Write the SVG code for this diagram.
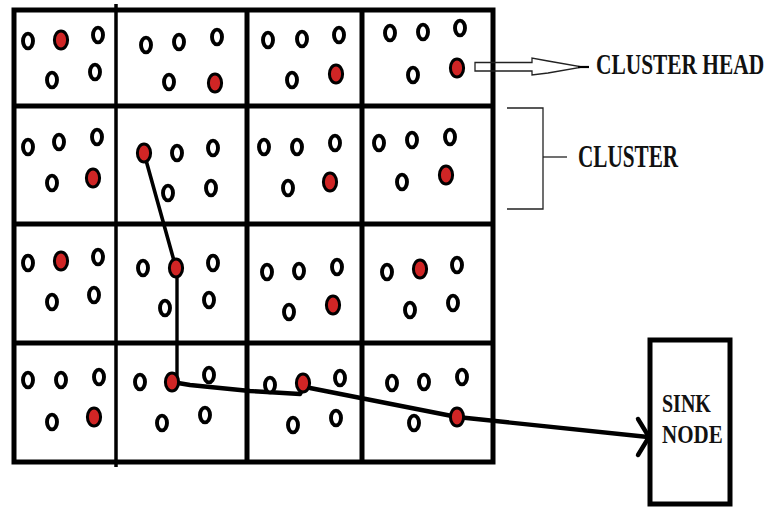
<svg xmlns="http://www.w3.org/2000/svg" width="770" height="507" viewBox="0 0 770 507">
<style>
.n{fill:#fff;stroke:#000;stroke-width:3.9}
.h{fill:#d02525;stroke:#000;stroke-width:3}
.g{fill:none;stroke:#000;stroke-width:5}
.thin{fill:none;stroke:#222;stroke-width:1.3}
.lbl{font-family:"Liberation Serif","Times New Roman",serif;font-weight:bold;fill:#111}
.c{fill:none;stroke:#000;stroke-width:4.4;stroke-linejoin:round;stroke-linecap:round}
</style>
<defs>
<ellipse id="o" class="n" rx="5" ry="7.4"/>
<ellipse id="r" class="h" rx="6.6" ry="9"/>
</defs>
<rect width="770" height="507" fill="#fff"/>
<g id="grid">
<rect class="g" x="14" y="10" width="479" height="452"/>
<line class="g" x1="14" y1="106" x2="493" y2="106"/>
<line class="g" x1="14" y1="224" x2="493" y2="224"/>
<line class="g" x1="14" y1="343" x2="493" y2="343"/>
<line class="g" x1="247" y1="10" x2="247" y2="462" stroke-width="4"/>
<line class="g" x1="362" y1="10" x2="362" y2="462" stroke-width="4"/>
<line class="g" x1="116" y1="4" x2="116" y2="467" style="stroke-width:3.5"/>
</g>
<g id="connectors">
<polyline class="c" points="144,153 176,268" style="stroke-width:3.6"/>
<polyline class="c" points="177,268 177,382" style="stroke-width:3.4"/>
<polyline class="c" points="172,382 190,385 250,391 300,394 304,386 310,388 457,417 648,437"/>
<polyline class="c" points="638,419 649,437 638,455"/>
<polygon class="thin" points="475,62.5 532,62.5 532,58 548,61 580,66.5 580,67.5 548,73 532,75 532,71 475,71"/>
<line x1="578" y1="67" x2="589" y2="67" stroke="#000" stroke-width="2.2"/>
<polyline class="thin" points="507,108 543,108 543,209 507,209"/>
<line class="thin" x1="543" y1="157" x2="567" y2="157"/>
</g>
<g id="cell-1-1"><use href="#o" x="28" y="41"/><use href="#r" x="61" y="40"/><use href="#o" x="98" y="35"/><use href="#o" x="52" y="80"/><use href="#o" x="95" y="72"/></g>
<g id="cell-1-2"><use href="#o" x="146" y="45"/><use href="#o" x="179" y="42"/><use href="#o" x="217" y="37"/><use href="#o" x="169" y="82"/><use href="#r" x="215" y="83"/></g>
<g id="cell-1-3"><use href="#o" x="268" y="40"/><use href="#o" x="302" y="39"/><use href="#o" x="339" y="35"/><use href="#o" x="292" y="80"/><use href="#r" x="336" y="74"/></g>
<g id="cell-1-4"><use href="#o" x="390" y="33"/><use href="#o" x="423" y="32"/><use href="#o" x="460" y="28"/><use href="#o" x="413" y="75"/><use href="#r" x="457" y="68"/></g>
<g id="cell-2-1"><use href="#o" x="28" y="147"/><use href="#o" x="59" y="142"/><use href="#o" x="97" y="137"/><use href="#o" x="52" y="183"/><use href="#r" x="93" y="178"/></g>
<g id="cell-2-2"><use href="#r" x="144" y="153"/><use href="#o" x="177" y="153"/><use href="#o" x="213" y="148"/><use href="#o" x="168" y="193"/><use href="#o" x="211" y="188"/></g>
<g id="cell-2-3"><use href="#o" x="264" y="147"/><use href="#o" x="297" y="147"/><use href="#o" x="335" y="143"/><use href="#o" x="288" y="188"/><use href="#r" x="330" y="182"/></g>
<g id="cell-2-4"><use href="#o" x="379" y="143"/><use href="#o" x="412" y="140"/><use href="#o" x="450" y="137"/><use href="#o" x="402" y="182"/><use href="#r" x="446" y="175"/></g>
<g id="cell-3-1"><use href="#o" x="28" y="263"/><use href="#r" x="61" y="261"/><use href="#o" x="98" y="257"/><use href="#o" x="52" y="302"/><use href="#o" x="94" y="295"/></g>
<g id="cell-3-2"><use href="#o" x="143" y="268"/><use href="#r" x="176" y="268"/><use href="#o" x="213" y="263"/><use href="#o" x="165" y="308"/><use href="#o" x="209" y="300"/></g>
<g id="cell-3-3"><use href="#o" x="267" y="272"/><use href="#o" x="299" y="271"/><use href="#o" x="337" y="267"/><use href="#o" x="289" y="312"/><use href="#r" x="333" y="305"/></g>
<g id="cell-3-4"><use href="#o" x="387" y="272"/><use href="#r" x="420" y="269"/><use href="#o" x="457" y="265"/><use href="#o" x="410" y="310"/><use href="#o" x="453" y="303"/></g>
<g id="cell-4-1"><use href="#o" x="28" y="380"/><use href="#o" x="61" y="380"/><use href="#o" x="99" y="377"/><use href="#o" x="52" y="422"/><use href="#r" x="94" y="417"/></g>
<g id="cell-4-2"><use href="#o" x="140" y="382"/><use href="#r" x="172" y="382"/><use href="#o" x="209" y="375"/><use href="#o" x="162" y="423"/><use href="#o" x="205" y="415"/></g>
<g id="cell-4-3"><use href="#o" x="270" y="385"/><use href="#r" x="303" y="383"/><use href="#o" x="340" y="378"/><use href="#o" x="293" y="425"/><use href="#o" x="336" y="418"/></g>
<g id="cell-4-4"><use href="#o" x="392" y="383"/><use href="#o" x="424" y="382"/><use href="#o" x="462" y="377"/><use href="#o" x="414" y="423"/><use href="#r" x="457" y="417"/></g>
<g id="sink">
<rect x="650" y="340" width="80" height="164" fill="#fff" stroke="#000" stroke-width="5"/>
<text class="lbl" transform="translate(662,412) scale(1,1.3)" font-size="20">SINK</text>
<text class="lbl" transform="translate(662,443) scale(1,1.2)" font-size="21">NODE</text>
</g>
<g id="label-cluster-head"><text class="lbl" transform="translate(596,74) scale(1,1.4)" font-size="21.4">CLUSTER HEAD</text></g>
<g id="label-cluster"><text class="lbl" transform="translate(578,167) scale(1,1.45)" font-size="21.2">CLUSTER</text></g>
</svg>
